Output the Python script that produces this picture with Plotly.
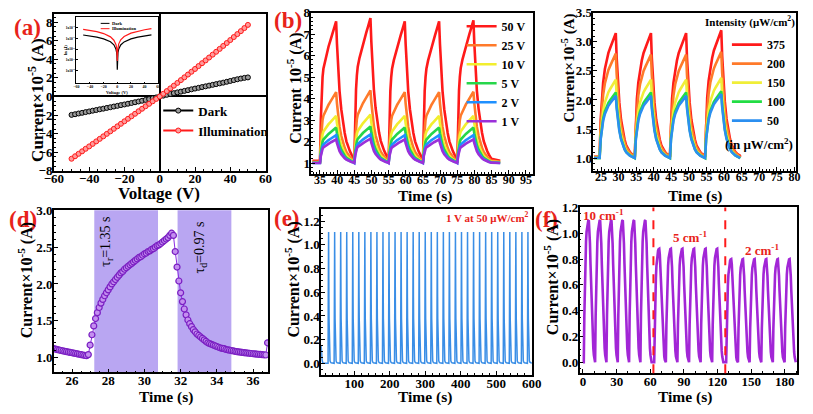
import plotly.graph_objects as go

FONT = "Liberation Serif"
LABEL_RED = "#e8231a"

# ---------------- (a) I-V curves ----------------
voltage_a = list(range(-50, 52, 2))
current_dark = [-1.98, -1.91, -1.83, -1.76, -1.68, -1.61, -1.53, -1.46, -1.38, -1.31,
                -1.23, -1.16, -1.08, -1.01, -0.93, -0.86, -0.78, -0.70, -0.62, -0.54,
                -0.46, -0.37, -0.28, -0.19, -0.10, 0.0, 0.09, 0.18, 0.27, 0.36,
                0.44, 0.52, 0.60, 0.68, 0.77, 0.85, 0.93, 1.01, 1.09, 1.17,
                1.25, 1.33, 1.41, 1.49, 1.58, 1.67, 1.76, 1.85, 1.93, 2.00, 2.05]
current_illum = [-6.70, -6.43, -6.17, -5.90, -5.63, -5.37, -5.10, -4.83, -4.56, -4.29,
                 -4.02, -3.75, -3.48, -3.21, -2.94, -2.67, -2.40, -2.13, -1.86, -1.59,
                 -1.32, -1.05, -0.79, -0.52, -0.26, 0.0, 0.29, 0.58, 0.87, 1.16,
                 1.46, 1.76, 2.06, 2.36, 2.66, 2.96, 3.27, 3.58, 3.88, 4.19,
                 4.50, 4.81, 5.12, 5.44, 5.75, 6.07, 6.39, 6.71, 7.03, 7.36, 7.70]

# inset (log |I|)
voltage_inset = [-50, -40, -30, -20, -10, -5, -2, -1, -0.5, 0, 0.5, 1, 2, 5, 10, 20, 30, 40, 50]
inset_dark = [2.0e-5, 1.63e-5, 1.26e-5, 8.8e-6, 4.7e-6, 2.5e-6, 1.0e-6, 5.0e-7, 2.4e-7, 1.2e-8,
              2.3e-7, 4.8e-7, 9.6e-7, 2.4e-6, 4.6e-6, 8.7e-6, 1.27e-5, 1.7e-5, 2.05e-5]
inset_illum = [6.7e-5, 5.4e-5, 4.08e-5, 2.72e-5, 1.35e-5, 6.6e-6, 2.7e-6, 1.35e-6, 6.8e-7, 8.0e-8,
               7.2e-7, 1.45e-6, 2.9e-6, 7.2e-6, 1.45e-5, 2.95e-5, 4.5e-5, 6.1e-5, 7.7e-5]
inset_tickvals = [1e-8, 1e-7, 1e-6, 1e-5, 1e-4]
inset_ticktext = ["1x10<sup>-8</sup>", "1x10<sup>-7</sup>", "1x10<sup>-6</sup>", "1x10<sup>-5</sup>", "1x10<sup>-4</sup>"]

# ---------------- (b) bias-dependent cycles ----------------
b_peak_times = [39.7, 49.7, 59.7, 69.7, 79.7]
b_names = ["50 V", "25 V", "10 V", "5 V", "2 V", "1 V"]
b_colors = ["#ff1a1a", "#ff7a2a", "#f2ee2e", "#26d64a", "#1e90ff", "#9b30d9"]
b_bases = [1.10, 1.06, 1.03, 1.01, 1.00, 1.00]
b_peak_50v = [7.60, 7.75, 7.60, 7.60, 7.65]
b_peak_25v = [4.30, 4.38, 4.30, 4.30, 4.32]
b_peak_10v = [3.20, 3.25, 3.20, 3.20, 3.20]
b_peak_5v = [2.65, 2.70, 2.65, 2.65, 2.65]
b_peak_2v = [2.30, 2.33, 2.30, 2.30, 2.30]
b_peak_1v = [2.10, 2.13, 2.10, 2.10, 2.10]
b_rise_t = [0, 0.25, 0.5, 0.75, 1.0, 1.5, 2.0, 2.5, 3.0, 3.5, 4.0, 4.5, 4.7]
b_rise_s = [0, 0.30, 0.50, 0.60, 0.66, 0.72, 0.77, 0.82, 0.86, 0.90, 0.94, 0.98, 1.0]
b_decay_t = [0, 0.25, 0.5, 1.0, 1.5, 2.0, 2.5, 3.0, 3.5, 4.0, 4.5, 5.0, 5.2]
b_decay_s = [1.0, 0.84, 0.70, 0.50, 0.37, 0.27, 0.20, 0.14, 0.10, 0.07, 0.045, 0.025, 0.015]
b_t_start, b_t_end = 32.8, 87.5

# ---------------- (c) intensity-dependent cycles ----------------
c_peak_times = [29.2, 39.2, 49.2, 59.2]
c_names = ["375", "200", "150", "100", "50"]
c_colors = ["#ff1a1a", "#ff7a2a", "#f0ee38", "#22dd44", "#2b8ff0"]
c_bases = [1.02, 1.02, 1.00, 1.00, 1.00]
c_peak_375 = [3.15, 3.15, 3.15, 3.20]
c_peak_200 = [2.80, 2.78, 2.78, 2.83]
c_peak_150 = [2.35, 2.35, 2.35, 2.38]
c_peak_100 = [2.13, 2.13, 2.13, 2.15]
c_peak_50 = [2.07, 2.07, 2.07, 2.10]
c_rise_t = [0, 0.3, 0.6, 1.0, 1.5, 2.0, 2.5, 3.0, 3.5, 4.0, 4.6]
c_rise_s = [0, 0.30, 0.47, 0.60, 0.71, 0.78, 0.84, 0.88, 0.92, 0.96, 1.0]
c_decay_t = [0, 0.25, 0.5, 1.0, 1.5, 2.0, 2.5, 3.0, 3.5, 4.0, 4.5, 5.0, 5.3]
c_decay_s = [1.0, 0.80, 0.64, 0.44, 0.30, 0.20, 0.14, 0.09, 0.06, 0.04, 0.025, 0.015, 0.01]
c_t_start, c_t_end = 23.0, 64.6

# ---------------- (d) single cycle (rise / decay time) ----------------
d_t0, d_dt = 25.0, 0.1
d_current = [1.120, 1.114, 1.108, 1.102, 1.096, 1.090, 1.085, 1.080, 1.075, 1.070,
             1.065, 1.060, 1.055, 1.050, 1.045, 1.040, 1.035, 1.030, 1.025, 1.040,
             1.17, 1.31, 1.43, 1.53, 1.61, 1.68, 1.74, 1.79, 1.84, 1.88,
             1.92, 1.96, 2.00, 2.03, 2.06, 2.09, 2.12, 2.15, 2.17, 2.20,
             2.22, 2.24, 2.26, 2.28, 2.30, 2.32, 2.34, 2.36, 2.37, 2.39,
             2.41, 2.42, 2.44, 2.45, 2.47, 2.48, 2.50, 2.52, 2.53, 2.55,
             2.57, 2.59, 2.61, 2.63, 2.66, 2.69, 2.66, 2.44, 2.23, 2.04,
             1.88, 1.76, 1.66, 1.58, 1.51, 1.46, 1.42, 1.38, 1.35, 1.32,
             1.30, 1.28, 1.26, 1.24, 1.22, 1.20, 1.19, 1.18, 1.17, 1.16,
             1.15, 1.14, 1.13, 1.125, 1.12, 1.11, 1.105, 1.10, 1.095, 1.09,
             1.085, 1.08, 1.077, 1.074, 1.07, 1.067, 1.064, 1.061, 1.058, 1.055,
             1.052, 1.05, 1.047, 1.044, 1.042, 1.04, 1.037, 1.035, 1.20]
d_time = [round(d_t0 + d_dt * i, 2) for i in range(len(d_current))]
d_rise_window = [27.23, 30.75]
d_decay_window = [31.83, 34.80]

# ---------------- (e) long-term stability ----------------
e_peak_times = [28, 45, 62, 79, 96, 113, 130, 147, 164, 181, 198, 215, 232, 249, 266, 283, 300,
                317, 334, 351, 368, 385, 402, 419, 436, 453, 470, 487, 504, 521, 538, 555, 572, 589]
e_peak_value = 1.11
e_base = 0.0
e_tail_t = [7.0, 8.0, 9.5]
e_tail_v = [0.15, 0.08, 0.03]
e_rise_t = [0, 0.5, 1.0, 1.5]
e_rise_s = [0, 0.50, 0.85, 1.0]
e_decay_t = [0, 0.4, 0.8, 1.2, 1.6, 2.0, 2.5, 3.0, 4.0, 5.0, 7.0]
e_decay_s = [1.0, 0.72, 0.50, 0.34, 0.23, 0.15, 0.09, 0.05, 0.02, 0.01, 0.004]
e_t_start, e_t_end = 12.0, 600.0

# ---------------- (f) frequency dependence ----------------
f_peak_times = [5.2, 15.3, 25.4, 35.5, 45.6, 55.7,
                68.0, 78.4, 88.7, 99.1, 109.4, 119.7,
                132.2, 142.7, 153.1, 163.5, 173.8, 184.3]
f_peak_values = [1.10, 1.10, 1.10, 1.10, 1.10, 1.10,
                 0.88, 0.88, 0.88, 0.88, 0.88, 0.88,
                 0.80, 0.80, 0.80, 0.80, 0.80, 0.80]
f_rise_t = [0, 0.5, 1.0, 1.5, 2.0, 2.5, 3.0, 3.5, 4.0, 4.5]
f_rise_s = [0, 0.33, 0.57, 0.74, 0.85, 0.92, 0.96, 0.985, 0.997, 1.0]
f_decay_t = [0, 0.5, 1.0, 1.5, 2.0, 2.5, 3.0, 3.5, 4.0, 4.5, 5.0, 5.5]
f_decay_s = [1.0, 0.95, 0.84, 0.69, 0.53, 0.39, 0.27, 0.17, 0.10, 0.05, 0.02, 0.0]
f_t_start, f_t_end = 0.0, 189.8
f_switch_times = [62.8, 126.9]


def pulse_train(peak_times, peak_values, base, rise_t, rise_s, decay_t, decay_s, t_start, t_end):
    rise_len = rise_t[-1]
    ts, vs = [t_start], [base]
    n = len(peak_times)
    for i in range(n):
        tp, pv = peak_times[i], peak_values[i]
        amp = pv - base
        for rt, rs in zip(rise_t, rise_s):
            ts.append(tp - rise_len + rt)
            vs.append(base + amp * rs)
        limit = peak_times[i + 1] - rise_len if i + 1 < n else t_end
        for dt, ds in zip(decay_t[1:], decay_s[1:]):
            if tp + dt < limit:
                ts.append(tp + dt)
                vs.append(base + amp * ds)
    if ts[-1] < t_end:
        ts.append(t_end)
        vs.append(base)
    return ts, vs


fig = go.Figure()

# (a)
fig.add_trace(go.Scatter(x=voltage_a, y=current_dark, name="Dark", mode="lines+markers",
                         line=dict(color="black", width=2),
                         marker=dict(symbol="circle", size=5, color="#9a9a9a", line=dict(color="black", width=1)),
                         xaxis="x", yaxis="y", legend="legend"))
fig.add_trace(go.Scatter(x=voltage_a, y=current_illum, name="Illumination", mode="lines+markers",
                         line=dict(color="#ff1a1a", width=2),
                         marker=dict(symbol="circle", size=5, color="#ff9a9a", line=dict(color="#ff1a1a", width=1)),
                         xaxis="x", yaxis="y", legend="legend"))
# inset
fig.add_trace(go.Scatter(x=voltage_inset, y=inset_dark, mode="lines", line=dict(color="black", width=1.2),
                         showlegend=False, xaxis="x7", yaxis="y7"))
fig.add_trace(go.Scatter(x=voltage_inset, y=inset_illum, mode="lines", line=dict(color="#ff1a1a", width=1.2),
                         showlegend=False, xaxis="x7", yaxis="y7"))

# (b)
b_peaks = [b_peak_50v, b_peak_25v, b_peak_10v, b_peak_5v, b_peak_2v, b_peak_1v]
for name, col, base, pk in zip(b_names, b_colors, b_bases, b_peaks):
    t, v = pulse_train(b_peak_times, pk, base, b_rise_t, b_rise_s, b_decay_t, b_decay_s, b_t_start, b_t_end)
    fig.add_trace(go.Scatter(x=t, y=v, name=name, mode="lines", line=dict(color=col, width=2.6),
                             xaxis="x2", yaxis="y2", legend="legend2"))

# (c)
c_peaks = [c_peak_375, c_peak_200, c_peak_150, c_peak_100, c_peak_50]
for name, col, base, pk in zip(c_names, c_colors, c_bases, c_peaks):
    t, v = pulse_train(c_peak_times, pk, base, c_rise_t, c_rise_s, c_decay_t, c_decay_s, c_t_start, c_t_end)
    fig.add_trace(go.Scatter(x=t, y=v, name=name, mode="lines", line=dict(color=col, width=2.6),
                             xaxis="x3", yaxis="y3", legend="legend3"))

# (d)
fig.add_trace(go.Scatter(x=d_time, y=d_current, mode="lines+markers",
                         line=dict(color="#8a2be2", width=1),
                         marker=dict(symbol="circle", size=6, color="#c48ff0", line=dict(color="#7a1fc2", width=1.2)),
                         showlegend=False, xaxis="x4", yaxis="y4"))

# (e)
t_e, v_e = pulse_train(e_peak_times, [e_peak_value] * len(e_peak_times), e_base,
                       e_rise_t, e_rise_s, e_decay_t, e_decay_s, e_t_start, e_t_end)
fig.add_trace(go.Scatter(x=e_tail_t + t_e, y=e_tail_v + v_e, mode="lines",
                         line=dict(color="#3a8ee6", width=1.5),
                         showlegend=False, xaxis="x5", yaxis="y5"))

# (f)
t_f, v_f = pulse_train(f_peak_times, f_peak_values, 0.0, f_rise_t, f_rise_s, f_decay_t, f_decay_s, f_t_start, f_t_end)
fig.add_trace(go.Scatter(x=t_f, y=v_f, mode="lines", line=dict(color="#a226d6", width=2.6),
                         showlegend=False, xaxis="x6", yaxis="y6"))

W, H = 813, 414


def px(x):
    return x / W


def py(y):
    return 1 - y / H


def axis(domain, anchor, rng, dtick=None, tick0=None, fmt=None, size=13, **kw):
    d = dict(domain=domain, anchor=anchor, range=rng, showline=True, linecolor="black", linewidth=1.5,
             mirror=True, ticks="inside", ticklen=4, tickwidth=1.2, tickcolor="black", showgrid=False,
             zeroline=False, tickfont=dict(family=FONT, size=size, color="black", weight="bold"),
             minor=dict(ticks="inside", ticklen=2, tickcolor="black"))
    if dtick is not None:
        d["dtick"] = dtick
    if tick0 is not None:
        d["tick0"] = tick0
    if fmt is not None:
        d["tickformat"] = fmt
    d.update(kw)
    return d


XS_TOP = -5   # tick label standoff, top-row x axes
XS_BOT = -5   # tick label standoff, bottom-row x axes
YS = -3       # tick label standoff, y axes

layout = dict(
    width=W, height=H, margin=dict(l=0, r=0, t=0, b=0),
    paper_bgcolor="white", plot_bgcolor="white", hovermode=False,
    xaxis=axis([px(45), px(262)], "y", [-60, 60], dtick=20, tick0=0, ticklabelstandoff=XS_TOP,
               zeroline=True, zerolinecolor="black", zerolinewidth=1.5),
    yaxis=axis([py(170), py(7)], "x", [-8, 8.9], dtick=2, tick0=0, ticklabelstandoff=YS,
               zeroline=True, zerolinecolor="black", zerolinewidth=1.5),
    xaxis2=axis([px(309), px(536)], "y2", [32.5, 97], dtick=5, tick0=0, size=12, ticklabelstandoff=XS_TOP - 1),
    yaxis2=axis([py(173), py(6)], "x2", [0.5, 8], dtick=1, tick0=0, ticklabelstandoff=YS),
    xaxis3=axis([px(598), px(806)], "y3", [22.8, 80.5], dtick=5, tick0=0, size=12, ticklabelstandoff=XS_TOP - 1),
    yaxis3=axis([py(170), py(6)], "x3", [0.78, 3.5], dtick=0.5, tick0=0, fmt=".1f", ticklabelstandoff=YS),
    xaxis4=axis([px(45), px(265)], "y4", [25, 36.85], dtick=2, tick0=0, ticklabelstandoff=XS_BOT),
    yaxis4=axis([py(379), py(211)], "x4", [0.8, 3.0], dtick=0.5, tick0=0, fmt=".1f", ticklabelstandoff=YS),
    xaxis5=axis([px(319), px(535)], "y5", [7, 600], dtick=100, tick0=0, ticklabelstandoff=XS_BOT),
    yaxis5=axis([py(382), py(210)], "x5", [-0.1, 1.3], dtick=0.2, tick0=0, fmt=".1f", ticklabelstandoff=YS),
    xaxis6=axis([px(584), px(807)], "y6", [-3, 191], dtick=30, tick0=0, ticklabelstandoff=XS_BOT),
    yaxis6=axis([py(380), py(208)], "x6", [-0.085, 1.2], dtick=0.2, tick0=0, fmt=".1f", ticklabelstandoff=YS),
    xaxis7=axis([px(68), px(152)], "y7", [-60, 60], dtick=20, tick0=0, size=4,
                linewidth=0.8, ticklen=1.5, tickwidth=0.6, minor=dict(ticks=""), ticklabelstandoff=-1),
    yaxis7=axis([py(79), py(10)], "x7", [-9.15, -3.0], size=3.5, type="log",
                tickvals=inset_tickvals, ticktext=inset_ticktext,
                linewidth=0.8, ticklen=1.5, tickwidth=0.6, minor=dict(ticks="")),
    legend=dict(x=px(152), y=py(92), xanchor="left", yanchor="top", bgcolor="rgba(0,0,0,0)",
                font=dict(family=FONT, size=13, color="black", weight="bold"), tracegroupgap=0),
    legend2=dict(x=px(463), y=py(5), xanchor="left", yanchor="top", bgcolor="rgba(0,0,0,0)",
                 font=dict(family=FONT, size=12, color="black", weight="bold"), tracegroupgap=0),
    legend3=dict(x=px(735), y=py(24), xanchor="left", yanchor="top", bgcolor="rgba(0,0,0,0)",
                 font=dict(family=FONT, size=12, color="black", weight="bold"), tracegroupgap=0),
)

ann = []


def add_text(text, x, y, size, color="black", angle=0, xref="paper", yref="paper", xanchor="center", bold=True):
    ann.append(dict(text=("<b>%s</b>" % text) if bold else text, x=x, y=y, xref=xref, yref=yref,
                    showarrow=False, textangle=angle, xanchor=xanchor, yanchor="middle",
                    font=dict(family=FONT, size=size, color=color)))


# panel labels
add_text("(a)", px(18), py(21), 23, LABEL_RED)
add_text("(b)", px(285), py(14), 23, LABEL_RED)
add_text("(d)", px(13), py(220), 23, LABEL_RED)
add_text("(e)", px(284), py(219), 23, LABEL_RED)
add_text("(f)", px(550), py(220), 23, LABEL_RED)

# axis titles
add_text("Voltage (V)", px(153), py(194), 17)
add_text("Current×10<sup>-5</sup> (A)", px(26), py(96), 17, angle=-90)
add_text("Time (s)", px(425), py(196), 15.5)
add_text("Current 10<sup>-5</sup> (A)", px(292), py(84), 16, angle=-90)
add_text("Time (s)", px(702), py(196), 15.5)
add_text("Current×10<sup>-5</sup> (A)", px(573), py(63), 15, angle=-90)
add_text("Time (s)", px(160), py(405), 15.5)
add_text("Current×10<sup>-5</sup> (A)", px(16), py(284), 16, angle=-90)
add_text("Time (s)", px(425), py(405), 15.5)
add_text("Current×10<sup>-5</sup> (A)", px(290), py(283), 16, angle=-90)
add_text("Time (s)", px(692), py(405), 15.5)
add_text("Current×10<sup>-5</sup> (A)", px(556), py(280), 16, angle=-90)

# inset texts
add_text("Voltage (V)", px(110), py(89), 4.5)
add_text("ln (I)", px(57), py(45), 4.5, angle=-90)
add_text("Dark", px(103), py(17), 4.5, xanchor="left")
add_text("Illumination", px(103), py(22.5), 4.5, xanchor="left")

# (c) legend title and unit note
add_text("Intensity (μW/cm<sup>2</sup>)", px(759), py(15), 11)
add_text("(in μW/cm<sup>2</sup>)", px(768), py(142), 13)

# (d) time constants
add_text("τ<sub>r</sub>=1.35 s", 27.9, 2.58, 14, angle=-90, xref="x4", yref="y4", bold=False)
add_text("τ<sub>d</sub>=0.97 s", 33.1, 2.49, 14, angle=-90, xref="x4", yref="y4", bold=False)

# (e) condition
add_text("1 V at 50 μW/cm<sup>2</sup>", px(490), py(218), 11, LABEL_RED)

# (f) frequencies
add_text("10 cm<sup>-1</sup>", px(608), py(216), 13, LABEL_RED)
add_text("5 cm<sup>-1</sup>", px(697), py(239), 13, LABEL_RED)
add_text("2 cm<sup>-1</sup>", px(771), py(252), 13, LABEL_RED)

layout["annotations"] = ann

shapes = []
for win in (d_rise_window, d_decay_window):
    shapes.append(dict(type="rect", xref="x4", yref="y4 domain", x0=win[0], x1=win[1], y0=0, y1=1,
                       fillcolor="#b9a6f2", line=dict(width=0), layer="below"))
for xs in f_switch_times:
    shapes.append(dict(type="line", xref="x6", yref="y6 domain", x0=xs, x1=xs, y0=0, y1=1,
                       line=dict(color="#ff1a1a", width=2, dash="dash")))
# inset legend swatches
shapes.append(dict(type="line", xref="paper", yref="paper", x0=px(93), x1=px(102), y0=py(17), y1=py(17),
                   line=dict(color="black", width=1)))
shapes.append(dict(type="line", xref="paper", yref="paper", x0=px(93), x1=px(102), y0=py(22.5), y1=py(22.5),
                   line=dict(color="#ff1a1a", width=1)))
layout["shapes"] = shapes

fig.update_layout(**layout)
fig.write_html("out.html")
